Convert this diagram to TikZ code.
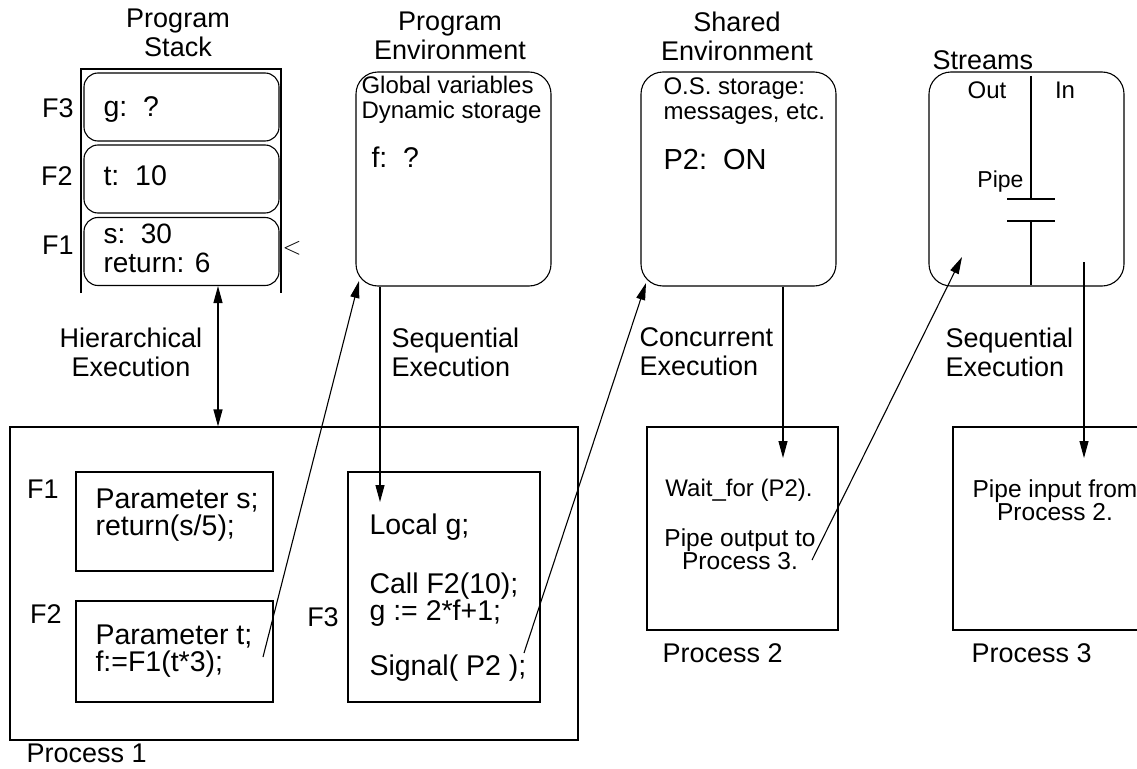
\documentclass[tikz,border=0pt]{standalone}
\usepackage{fontspec}
\setmainfont{Liberation Sans}
\usetikzlibrary{arrows.meta}

\begin{document}
\begin{tikzpicture}[x=1pt,y=-1pt,line width=1.1pt,
  every node/.style={inner sep=0pt,font=\fontsize{28.5}{27}\selectfont},
  big/.style={font=\fontsize{27}{29}\selectfont,align=center},
  small/.style={font=\fontsize{24}{25}\selectfont},
  frame/.style={draw,rounded corners=14pt,minimum width=195pt,minimum height=68pt},
  env/.style={draw,rounded corners=22pt,minimum width=195pt,minimum height=214pt},
  proc/.style={draw},
  link/.style={-{Triangle[length=17pt,width=9pt]}},
  dbl/.style={{Triangle[length=17pt,width=9pt]}-{Triangle[length=17pt,width=9pt]}}]
  \useasboundingbox (0,0) rectangle (1137,768);

  %program stack
  \node[big] (stk) at (178,33) {Program\\Stack};
  \draw (81,293) -- (81,69) -- (281,69) -- (281,293);
  \node[frame] (fr3) at (181.5,107) {};
  \node[frame] (fr2) at (181.5,179) {};
  \node[frame] (fr1) at (181.5,251.5) {};
  \node[big] (lf3) at (58,108) {F3};
  \node[big] (lf2) at (57,176) {F2};
  \node[big] (lf1) at (58,245) {F1};
  \node[anchor=west] (vg) at (103,110) {g:\ \ ?};
  \node[anchor=west] (vt) at (103,176) {t:\ \ 10};
  \node[anchor=west,align=left,font=\fontsize{28}{29}\selectfont] (vs) at (103,248) {s:\ \ 30\\return: 6};
  \node[big] (cur) at (292,248) {$<$};

  %program environment
  \node[big] (pet) at (450,36) {Program\\Environment};
  \node[env] (penv) at (453.5,179) {};
  \node[small,anchor=west,align=left] (glob) at (361,100) {Global variables\\Dynamic storage};
  \node[anchor=west] (vf) at (371,157) {f:\ \ ?};

  %shared environment
  \node[big] (set) at (737,36) {Shared\\Environment};
  \node[env] (shenv) at (738.5,179) {};
  \node[small,anchor=west,align=left] (os) at (663,101) {O.S. storage:\\messages, etc.};
  \node[anchor=west,font=\fontsize{29}{30}\selectfont] (on) at (663,160) {P2:\ \ ON};

  %streams
  \node[big,anchor=west] (stt) at (932,60) {Streams};
  \node[env] (strm) at (1026.5,179) {};
  \node[small] (sout) at (987,90) {Out};
  \node[small] (sin) at (1065,90) {In};
  \draw (1031,76) -- (1031,199);
  \draw (1007,199) -- (1055,199);
  \draw (1007,221) -- (1055,221);
  \draw (1031,221) -- (1031,285);
  \node[anchor=east,font=\fontsize{23}{24}\selectfont] (pipe) at (1024,182) {Pipe};

  %execution labels
  \node[big] (hx) at (131,352) {Hierarchical\\Execution};
  \node[big,align=left,anchor=west] (sx1) at (391,352) {Sequential\\Execution};
  \node[big,align=left,anchor=west] (cx) at (639,352) {Concurrent\\Execution};
  \node[big,align=left,anchor=west] (sx2) at (945,352) {Sequential\\Execution};

  %process 1
  \node[proc,minimum width=568pt,minimum height=313pt] (p1) at (294,583.5) {};
  \node[anchor=west,big] (lp1) at (26,753) {Process 1};
  \node[big] (lpf1) at (43,489) {F1};
  \node[proc,minimum width=197pt,minimum height=99pt] (bf1) at (174.5,521.5) {};
  \node[anchor=west,align=left] (tf1) at (95,515) {Parameter s;\\return(s/5);};
  \node[big] (lpf2) at (46,614) {F2};
  \node[proc,minimum width=197pt,minimum height=101pt] (bf2) at (174.5,651.5) {};
  \node[anchor=west,align=left] (tf2) at (95,651) {Parameter t;\\f:=F1(t*3);};
  \node[big] (lpf3) at (323,617) {F3};
  \node[proc,minimum width=192pt,minimum height=230pt] (bf3) at (444,587) {};
  \node[anchor=west] (tloc) at (369,527) {Local g;};
  \node[anchor=west,align=left] (tcall) at (369,600) {Call F2(10);\\g := 2*f+1;};
  \node[anchor=west] (tsig) at (369,668) {Signal( P2 );};

  %process 2 and 3
  \node[proc,minimum width=191pt,minimum height=203pt] (p2) at (742.5,528.5) {};
  \node[small] (twait) at (739,490) {Wait\_for (P2).};
  \node[align=center,font=\fontsize{24.5}{21}\selectfont] (tpo) at (740,549) {Pipe output to\\Process 3.};
  \node[anchor=west,big] (lp2) at (662,653) {Process 2};
  \node[proc,minimum width=197pt,minimum height=203pt] (p3) at (1051.5,528.5) {};
  \node[align=center,font=\fontsize{24.5}{21}\selectfont] (tpi) at (1055,500) {Pipe input from\\Process 2.};
  \node[anchor=west,big] (lp3) at (971,653) {Process 3};

  %connectors
  \coordinate (hier) at (218,300);
  \draw[dbl] (hier |- fr1.south) -- (hier |- p1.north);
  \coordinate (callf1) at (263,657);
  \coordinate (penvin) at (359,281);
  \draw[link] (callf1) -- (penvin);
  \coordinate (locg) at (380,502);
  \draw[link] (locg |- penv.south) -- (locg);
  \coordinate (sig) at (524,653);
  \coordinate (shin) at (646,283);
  \draw[link] (sig) -- (shin);
  \coordinate (wait) at (783,458);
  \draw[link] (wait |- shenv.south) -- (wait);
  \coordinate (pout) at (812,560);
  \coordinate (outin) at (962,257);
  \draw[link] (pout) -- (outin);
  \coordinate (inpipe) at (1084,262);
  \coordinate (pin) at (1084,458);
  \draw[link] (inpipe) -- (pin);
\end{tikzpicture}
\end{document}
